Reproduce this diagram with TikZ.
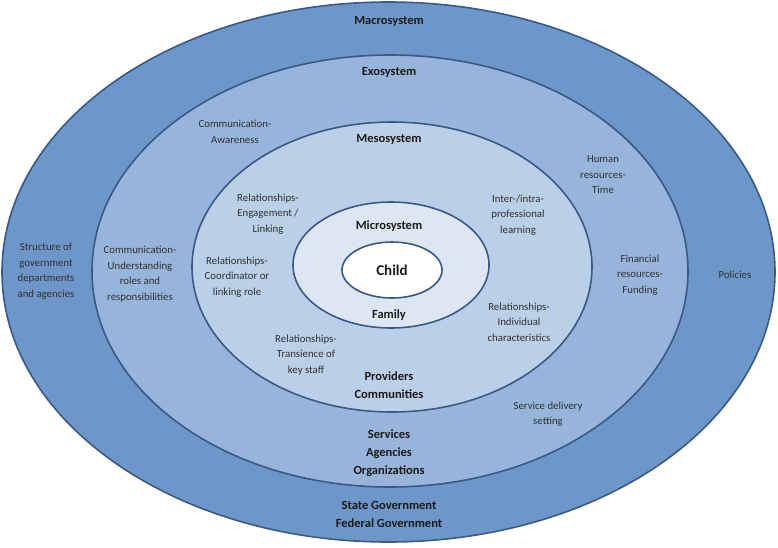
\documentclass[tikz,border=0pt]{standalone}
\usepackage{fontspec}
\setmainfont{Carlito}
\definecolor{macroc}{HTML}{6D97C9}
\definecolor{exoc}{HTML}{97B5DA}
\definecolor{mesoc}{HTML}{BAD0E8}
\definecolor{microc}{HTML}{DDE7F3}
\definecolor{edgec}{HTML}{3A5A85}
\definecolor{txtc}{HTML}{1A1A1A}
\begin{document}
\begin{tikzpicture}[x=1pt,y=-1pt,
  ring/.style={draw=edgec,line width=1.6pt},
  head/.style={font=\fontsize{12.5}{18}\selectfont\bfseries,text=txtc,align=center,inner sep=0pt},
  note/.style={font=\fontsize{10.8}{15.5}\selectfont,text=txtc!90,align=center,inner sep=0pt}]
\useasboundingbox (0,0) rectangle (778,547);
\fill[white] (0,0) rectangle (778,547);
\filldraw[ring,fill=macroc] (388.5,272) ellipse [x radius=386.5,y radius=270];
\filldraw[ring,fill=exoc] (390,271) ellipse [x radius=298,y radius=216];
\filldraw[ring,fill=mesoc] (392,267) ellipse [x radius=200,y radius=145];
\filldraw[ring,fill=microc] (391,265) ellipse [x radius=98,y radius=63];
\filldraw[ring,fill=white] (392,270) ellipse [x radius=50,y radius=28];

\node[head] (macro) at (389,21) {Macrosystem};
\node[head] (exo) at (389,72) {Exosystem};
\node[head] (meso) at (389,139) {Mesosystem};
\node[head] (micro) at (389,226) {Microsystem};
\node[head,font=\fontsize{15}{18}\selectfont\bfseries] (child) at (392,270) {Child};
\node[head] (family) at (389,315) {Family};
\node[head] (prov) at (389,385) {Providers\\Communities};
\node[head] (serv) at (389,453) {Services\\Agencies\\Organizations};
\node[head] (gov) at (389,514) {State Government\\Federal Government};

\node[note] (comaw) at (235,132) {Communication-\\Awareness};
\node[note] (struct) at (46,271) {Structure of\\government\\departments\\and agencies};
\node[note] (comund) at (140,274) {Communication-\\Understanding\\roles and\\responsibilities};
\node[note] (releng) at (268,214) {Relationships-\\Engagement /\\Linking};
\node[note] (relcoo) at (237,277) {Relationships-\\Coordinator or\\linking role};
\node[note] (reltra) at (306,355) {Relationships-\\Transience of\\key staff};
\node[note] (inter) at (518,215) {Inter-/intra-\\professional\\learning};
\node[note] (relind) at (519,322) {Relationships-\\Individual\\characteristics};
\node[note] (human) at (603,175) {Human\\resources-\\Time};
\node[note] (fin) at (640,275) {Financial\\resources-\\Funding};
\node[note] (pol) at (735,275) {Policies};
\node[note] (sdel) at (548,414) {Service delivery\\setting};
\end{tikzpicture}
\end{document}
